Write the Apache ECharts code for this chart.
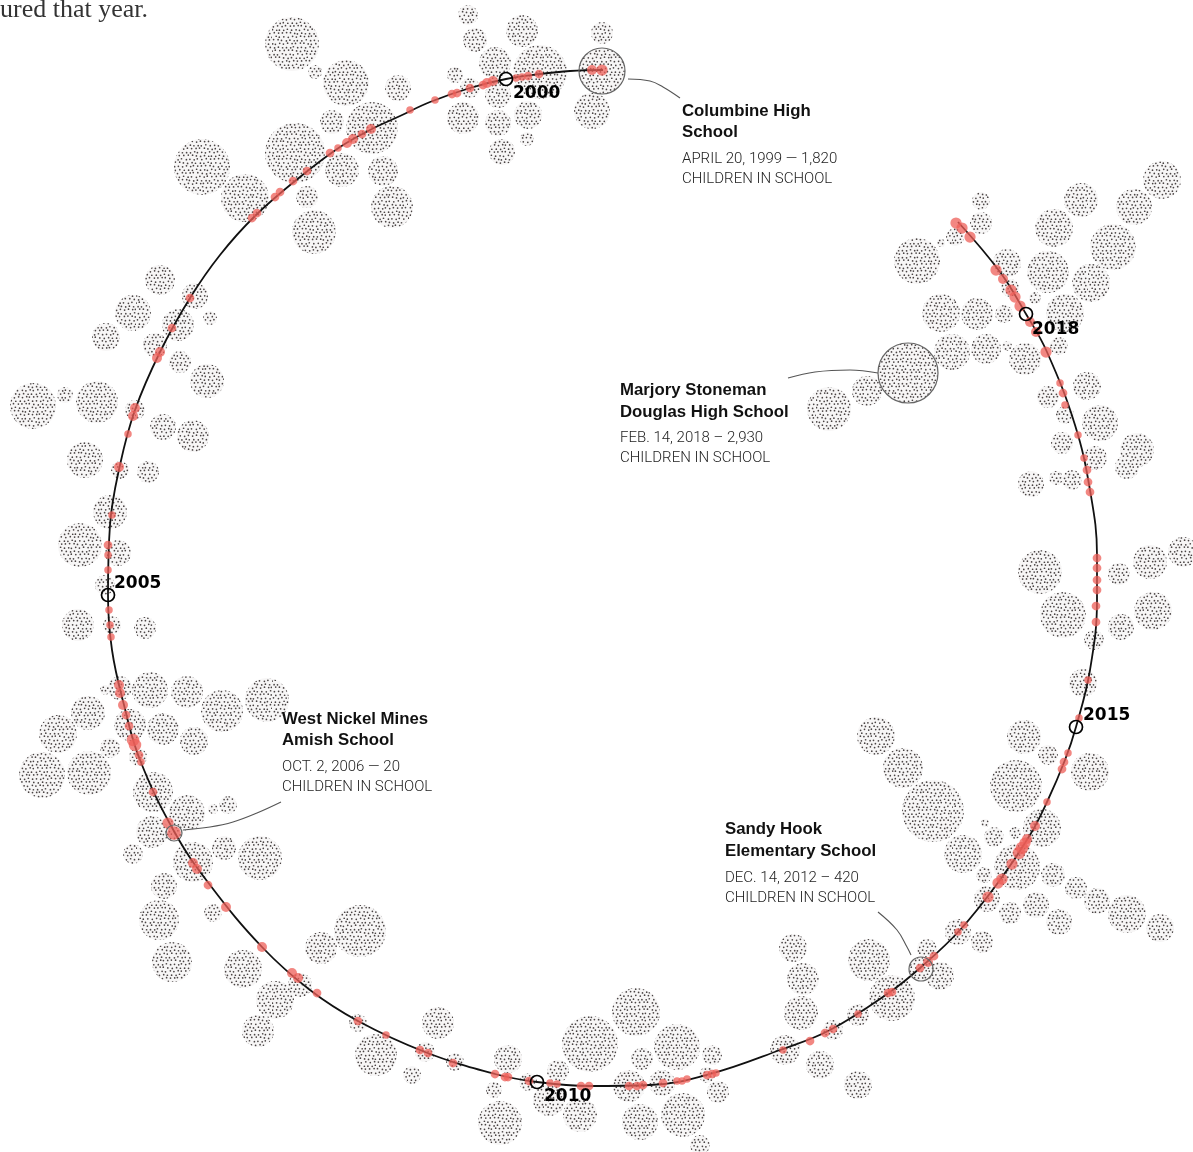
<!DOCTYPE html>
<html><head><meta charset="utf-8">
<style>html,body{margin:0;padding:0;background:#fff}#c{width:1193px;height:1152px}</style>
<script src="https://cdn.jsdelivr.net/npm/echarts@6/dist/echarts.min.js"></script>
</head><body><div id="c"></div>
<script>
// [x, y, radius] of every school cluster
const clusters = [
[468,15,10],[475,40,12],[522,31,16],[495,63,16],[540,72,27],[602,33,11],[592,111,18],[455,75,8],[470,88,10],[498,95,13],[463,118,16],[498,123,13],[528,115,14],[527,139,7],[502,152,13],
[292,44,27],[315,72,7],[346,83,23],[332,122,12],[372,128,26],[398,88,13],[295,153,30],[342,170,17],[383,171,15],[392,207,21],[202,167,28],[245,198,24],[307,197,11],[314,232,22],
[160,280,15],[133,313,18],[178,325,16],[195,296,13],[210,318,7],[106,337,14],[207,381,17],[180,362,11],[155,345,12],[33,406,23],[65,395,8],[97,402,21],[135,410,10],[163,427,13],[193,436,16],[85,460,18],[120,470,9],[148,472,11],[110,512,17],[80,545,22],[118,553,13],[105,585,10],[78,625,16],[145,628,11],[112,625,9],
[267,700,22],[222,711,21],[187,692,16],[150,690,18],[120,688,12],[130,725,16],[163,729,16],[194,741,14],[110,748,10],[138,757,9],[153,792,20],[187,813,18],[228,805,9],[213,809,5],[152,832,16],[133,854,10],[193,862,20],[224,848,12],[260,858,22],[164,886,13],[88,713,17],[58,734,19],[42,775,23],[89,773,22],[105,690,5],
[213,913,9],[159,920,20],[172,962,20],[243,969,19],[321,948,16],[360,931,26],[258,1031,16],[300,985,12],[275,1000,19],[358,1023,9],[376,1055,21],[438,1023,16],[412,1075,9],[425,1052,10],[455,1062,9],
[508,1059,14],[494,1090,8],[500,1123,22],[528,1082,9],[549,1100,16],[558,1071,11],[590,1044,28],[580,1115,17],[636,1012,24],[677,1047,23],[642,1059,11],[712,1055,10],[629,1086,16],[662,1083,13],[640,1122,18],[683,1115,22],[707,1075,8],[718,1092,11],[700,1145,10],
[785,1050,15],[820,1065,14],[858,1085,14],[833,1030,10],[858,1015,11],[801,1013,17],[803,979,16],[793,948,14],[869,960,21],[927,949,10],[940,976,14],[892,998,23],[958,932,13],[982,942,11],
[876,736,19],[903,768,20],[933,811,31],[963,854,19],[1024,737,17],[1048,755,10],[1090,772,19],[1016,786,26],[1042,828,19],[994,837,10],[1015,833,6],[985,823,4],[1017,867,23],[984,875,8],[987,899,13],[1053,875,12],[1076,888,11],[1097,901,13],[1127,914,19],[1160,928,14],[1036,905,13],[1010,913,11],[1059,922,13],
[1083,683,14],[1094,640,10],[1121,627,13],[1153,611,19],[1063,615,23],[1040,572,22],[1119,574,11],[1150,562,17],[1183,552,15],
[1031,484,13],[1056,478,7],[1072,480,10],[1095,458,12],[1127,467,12],[1137,450,17],[1100,423,18],[1062,443,11],[1087,386,14],[1048,397,11],[1065,415,9],
[981,223,11],[981,201,9],[955,237,9],[941,243,4],[917,261,23],[1007,263,14],[1054,228,19],[1048,272,21],[1091,283,19],[1081,200,17],[1113,247,23],[1134,207,18],[1162,180,19],[1010,288,9],[1035,298,6],[941,313,19],[977,314,16],[1004,314,9],[1065,313,19],[952,352,18],[986,349,15],[1007,346,5],[1025,359,16],[1059,346,9],[867,391,15],[829,409,22]
];
// the four schools that are outlined and annotated
const outlined = [[602,71,23],[908,373,30],[174,833,8],[921,969,12]];
// the timeline, start (1999) to end (2018)
const timeline = [[603,70],[570,71],[540,74],[506,79],[470,88],[430,102],[400,116],[370,130],[340,147],[300,177],[255,216],[220,255],[190,298],[160,352],[135,410],[120,465],[110,525],[108,595],[112,650],[124,705],[140,760],[175,833],[210,885],[262,947],[310,990],[358,1021],[425,1052],[495,1074],[537,1082],[590,1086],[650,1085],[710,1074],[780,1050],[830,1030],[890,992],[920,968],[960,930],[1000,880],[1030,835],[1047,802],[1065,760],[1076,727],[1090,670],[1097,600],[1097,555],[1090,490],[1075,425],[1047,352],[1026,314],[1000,272],[958,222]];
// [x, y, radius] of each shooting on the timeline
const shootings = [
[602,70,4.5],[592,70,4],[539,74,3.5],[528,76,3.5],[522,77,3],[516,78,3],[493,81,4],[487,83,4],[483,85,3.5],[470,88,3.5],[457,93,3.5],[452,94,3.5],[435,100,3],[410,110,3],
[371,129,4],[362,134,3.5],[353,139,4],[347,143,4],[338,148,3],[330,153,3.5],[307,171,3.5],[293,181,3.5],[280,192,3.5],[275,197,3.5],[257,213,3.5],[252,218,3.5],
[190,298,3.5],[172,328,3.5],[160,352,4],[157,358,4],[135,408,4],[133,416,4],[128,434,3],[119,467,4],[112,515,3],[108,545,3.5],[108,555,3],[108,570,3],[109,610,3],[110,625,3],[111,637,3],
[119,685,4],[120,693,4],[123,705,4],[126,715,3.5],[129,726,3.5],[133,740,5],[135,745,5],[139,755,3.5],[141,762,3],[153,792,3.5],[168,823,4.5],[174,833,5.5],[193,863,4],[197,869,4],
[208,885,3.5],[226,907,4],[262,947,4],[292,973,4],[298,978,4],[317,993,3.5],[358,1021,3.5],[386,1035,3],[420,1050,3.5],[428,1053,3.5],[453,1063,3.5],
[495,1074,3.5],[505,1077,3.5],[508,1077,3.5],[529,1081,3.5],[550,1083,3],[557,1084,3],[581,1086,3.5],[589,1086,3.5],[629,1086,3.5],[637,1086,3.5],[643,1085,3.5],[663,1083,3.5],[677,1081,3],[682,1081,3],[687,1079,3],[707,1075,3.5],[712,1074,3.5],[716,1073,3],
[783,1050,3],[810,1041,3.5],[825,1033,3.5],[833,1029,3.5],[858,1014,3],[888,993,3.5],[892,992,3.5],[920,968,3.5],[928,962,4],[934,956,3.5],[958,932,3],[964,925,3],[988,897,4.5],[998,883,4.5],[1002,879,4.5],[1012,864,4.5],[1019,853,5],[1022,848,5],[1025,843,4.5],[1027,839,4],[1035,826,4],[1047,802,3],[1062,769,3.5],[1064,762,3.5],[1068,753,3],[1079,718,3],
[1088,680,3],[1096,622,3.5],[1096,606,3.5],[1097,590,3.5],[1097,580,3.5],[1097,568,3.5],[1097,558,3.5],[1090,492,3.5],[1088,482,3.5],[1087,470,3.5],[1084,458,3],[1078,435,3],[1065,405,3],[1063,393,3.5],[1060,383,3],
[1046,352,4.5],[1036,332,4],[1030,322,4],[1020,306,4.5],[1015,297,4.5],[1011,290,4.5],[1003,279,4],[996,270,4.5],[970,237,4.5],[962,228,4.5],[956,223,4.5]
];
const yearMarks = [[506,79],[108,595],[537,1082],[1076,727],[1026,314]];
const yearLabels = [[513,92,'2000'],[114,582,'2005'],[544,1095,'2010'],[1083,714,'2015'],[1032,328,'2018']];
const nameLabels = [[682,111,'Columbine High'],[682,132,'School'],[620,390,'Marjory Stoneman'],[620,412,'Douglas High School'],[282,719,'West Nickel Mines'],[282,740,'Amish School'],[725,829,'Sandy Hook'],[725,851,'Elementary School']];
const detailLabels = [[682,158,'APRIL 20, 1999 — 1,820'],[682,178,'CHILDREN IN SCHOOL'],[620,437,'FEB. 14, 2018 – 2,930'],[620,457,'CHILDREN IN SCHOOL'],[282,766,'OCT. 2, 2006 — 20'],[282,786,'CHILDREN IN SCHOOL'],[725,877,'DEC. 14, 2012 – 420'],[725,897,'CHILDREN IN SCHOOL']];
const captionLabels = [[0,10,'ured that year.']];
const leaders = [
 [[628,79],[650,81],[663,87],[680,98]],
 [[788,378],[815,372],[850,370],[878,373]],
 [[281,802],[257,813],[233,822],[210,827],[183,830]],
 [[878,912],[897,930],[907,947],[911,955]]
];

// stipple texture used to fill the clusters: a slightly uneven lattice of small dots
function stipple(){
  const tile = document.createElement('canvas');
  const stepX = 4, stepY = 3.5, cols = 34, rows = 36;
  tile.width = stepX*cols; tile.height = stepY*rows;
  const g = tile.getContext('2d');
  g.fillStyle = '#f7f6f6'; g.fillRect(0,0,tile.width,tile.height);
  const wob = [0.4,-0.6,0.2,0.6,-0.4,-0.7,0.5,0.1,-0.2,0.7,-0.5,0.3,-0.6,0.4,0.6,-0.3,-0.1];
  g.fillStyle = '#4a4444';
  for(let r=0;r<rows;r++) for(let c=0;c<cols;c++){
    const x = (c+(r%2?0.5:0))*stepX + wob[(c*3+r*5)%17];
    const y = (r+0.5)*stepY + wob[(c*7+r*2)%17];
    g.beginPath(); g.arc((x+tile.width)%tile.width,y,0.85,0,Math.PI*2); g.fill();
  }
  return tile;
}
const texture = {image:stipple(), repeat:'repeat'};
const discSeries = rows => ({
  type:'custom', silent:true, z:1, coordinateSystem:'cartesian2d', data:rows,
  encode:{x:0,y:1}, clip:true,
  renderItem:(p,api)=>{
    const c = api.coord([api.value(0),api.value(1)]);
    return {type:'circle',shape:{cx:c[0],cy:c[1],r:api.value(2)},style:{fill:texture}};
  }
});
const textSeries = (rows, font, dy) => ({
  type:'scatter', silent:true, symbolSize:0, z:10, itemStyle:{opacity:1},
  data: rows.map(r => ({value:[r[0],r[1]], label:{formatter:r[2]}})),
  label:Object.assign({show:true, position:'right', distance:0, offset:[0,dy||0]}, font)
});
const chart = echarts.init(document.getElementById('c'), null, {renderer:'canvas'});
chart.setOption({
  animation:false, backgroundColor:'#fff',
  grid:{left:0,right:0,top:0,bottom:0},
  xAxis:{type:'value',min:0,max:1193,show:false},
  yAxis:{type:'value',min:0,max:1152,inverse:true,show:false},
  series:[
    discSeries(clusters),
    discSeries(outlined),
    {type:'scatter',silent:true,z:6,data:outlined,
     symbolSize:v=>v[2]*2,
     itemStyle:{color:'transparent',borderColor:'#666',borderWidth:1.2,opacity:1}},
    {type:'line',silent:true,z:4,data:timeline,smooth:0.4,symbol:'none',
     lineStyle:{color:'#111',width:1.8}},
    {type:'scatter',silent:true,z:5,data:shootings,
     symbolSize:v=>v[2]*2.5,
     itemStyle:{color:'#ee5f58',opacity:0.75}},
    {type:'scatter',silent:true,z:7,data:yearMarks,symbolSize:13,
     itemStyle:{color:'transparent',borderColor:'#000',borderWidth:1.7,opacity:1}},
    ...leaders.map(p=>({type:'line',silent:true,z:6,data:p,smooth:0.4,symbol:'none',
      lineStyle:{color:'#555',width:1.1}})),
    textSeries(yearLabels,{fontFamily:'DejaVu Sans',fontWeight:'bold',fontSize:17,color:'#000'},2),
    textSeries(nameLabels,{fontFamily:'Liberation Sans',fontWeight:'bold',fontSize:16.8,color:'#111'},0),
    textSeries(detailLabels,{fontFamily:'Roboto',fontWeight:300,fontSize:15,color:'#222'},1),
    textSeries(captionLabels,{fontFamily:'Liberation Serif',fontSize:26,color:'#333'},0)
  ]
});
</script></body></html>
